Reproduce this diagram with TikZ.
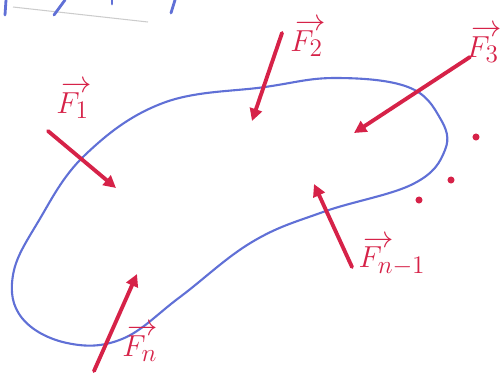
\documentclass[tikz,border=0pt]{standalone}
\usetikzlibrary{arrows.meta}
\definecolor{penred}{RGB}{214,34,72}
\definecolor{penblue}{RGB}{96,112,214}
\newcommand{\vlab}[2]{\shortstack[l]{$\,\rightarrow$\\[-3pt]$F_{#2}$}}
\tikzset{
  force/.style={draw=penred, line width=2.2pt, line cap=round, -{Triangle[length=7pt,width=7pt]}},
  flabel/.style={text=penred, font=\fontsize{19}{20}\selectfont, inner sep=0pt},
  fdot/.style={fill=penred, circle, inner sep=0pt, minimum size=4pt},
  body/.style={draw=penblue, line width=1.2pt},
  scrap/.style={draw=penblue, line width=1.6pt, line cap=round}
}
\begin{document}
\begin{tikzpicture}[x=0.02cm, y=-0.02cm]
\useasboundingbox (0,0) rectangle (503,380);
% remnants at top
\draw[gray!40, line width=0.6pt] (13,7) -- (148,22);
\draw[scrap] (6,0) -- (5,15);
\draw[scrap] (65,0) -- (54,15);
\draw[scrap] (112,0) -- (112,4);
\draw[scrap] (175,0) -- (171,13);
% body
\draw[body] plot[smooth cycle, tension=0.65] coordinates {
 (85,155) (163,103) (265,87) (335,78) (408,87) (440,118) (445,150)
 (413,184) (323,212) (252,242) (180,297) (122,339) (67,343) (22,318)
 (13,275) (38,222)};
% forces
\coordinate (a1) at (48,131); \coordinate (b1) at (116,188);
\coordinate (a2) at (282,33);  \coordinate (b2) at (252,121);
\coordinate (a3) at (470,57);  \coordinate (b3) at (354,133);
\coordinate (a4) at (352,267); \coordinate (b4) at (314,184);
\coordinate (a5) at (94,371);  \coordinate (b5) at (137,274);
\draw[force] (a1) -- (b1);
\draw[force] (a2) -- (b2);
\draw[force] (a3) -- (b3);
\draw[force] (a4) -- (b4);
\draw[force] (a5) -- (b5);
% labels
\node[flabel] (l1) at (74,100) {\vlab{F}{1}};
\node[flabel] (l2) at (308,38) {\vlab{F}{2}};
\node[flabel] (l3) at (484,44) {\vlab{F}{3}};
\node[flabel] (l4) at (392,256) {\vlab{F}{n-1}};
\node[flabel] (l5) at (140,343) {\vlab{F}{n}};
% dots
\node[fdot] (d1) at (476,137) {};
\node[fdot] (d2) at (451,180) {};
\node[fdot] (d3) at (419,200) {};
\end{tikzpicture}
\end{document}
